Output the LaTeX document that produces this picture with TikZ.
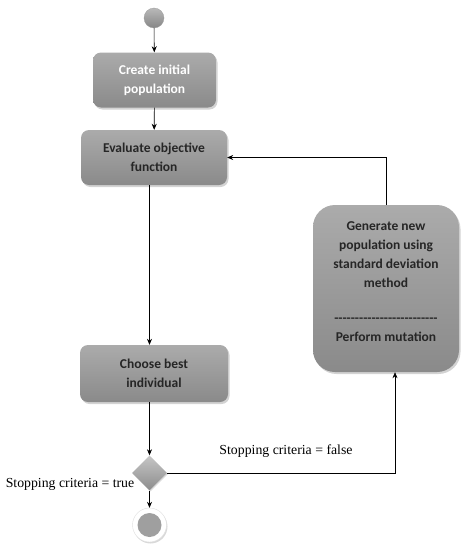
\documentclass[tikz,border=0pt]{standalone}
\usepackage{fontspec}
\setmainfont{Liberation Serif}
\newfontfamily\boxfont{Carlito}
\usetikzlibrary{shapes.geometric,shadows,arrows.meta}

\definecolor{boxtop}{HTML}{ABABAB}
\definecolor{boxbot}{HTML}{8A8A8A}
\definecolor{boxtext}{HTML}{262626}

\begin{document}
\begin{tikzpicture}[x=1pt,y=1pt,
	activity/.style={rectangle, rounded corners=8pt, top color=boxtop, bottom color=boxbot,
		drop shadow={opacity=0.35, shadow xshift=1.5pt, shadow yshift=-2pt},
		font=\boxfont\bfseries\fontsize{13.5}{19}\selectfont, text=boxtext, align=center, inner sep=2pt},
	flow/.style={-{Stealth[length=6pt,width=5pt]}, line width=0.6pt},
	guard/.style={font=\fontsize{13.8}{15}\selectfont, inner sep=1pt}]
\useasboundingbox (0,0) rectangle (461,-549);
\node[circle, minimum size=20, inner sep=0, top color=gray!55, bottom color=gray!95, draw=gray!80, line width=0.3pt] (start) at (154,-18) {};
\node[activity, minimum width=123, minimum height=55, text=white] (create) at (154.5,-80) {Create initial\\population};
\node[activity, minimum width=146, minimum height=55] (evaluate) at (154,-157.5) {Evaluate objective\\function};
\node[activity, minimum width=146, minimum height=167, rounded corners=22pt] (generate) at (386,-288.5)
	{Generate new\\population using\\standard deviation\\method\\[16pt]-------------------------\\Perform mutation\\[-6pt]\mbox{}};
\node[activity, minimum width=148, minimum height=57] (choose) at (154,-373.5) {Choose best\\individual};
\node[diamond, minimum width=35, minimum height=35, inner sep=0, top color=gray!45, bottom color=gray!90,
	drop shadow={opacity=0.3, shadow xshift=1pt, shadow yshift=-1pt}] (decide) at (149.5,-473) {};
\node[circle, minimum size=34, inner sep=0, fill=white, draw=gray!25,
	drop shadow={opacity=0.3, shadow xshift=1pt, shadow yshift=-1.5pt}] (stop) at (149.5,-525) {};
\node[circle, minimum size=24, inner sep=0, fill=gray!75] (stopdot) at (stop) {};
\coordinate (loopin) at ([xshift=9pt]generate.south);
\draw[flow] (start) -- (create);
\draw[flow] (create) -- (evaluate);
\draw[flow] (evaluate.south -| decide) -- (choose.north -| decide);
\draw[flow] (choose.south -| decide) -- (decide.north);
\draw[flow] (decide.south) -- (stop.north);
\draw[flow] (decide.east) -| (loopin);
\draw[flow] (generate.north) |- (evaluate.east);
\node[guard] (falselabel) at (286,-451) {Stopping criteria = false};
\node[guard] (truelabel) at (70,-484) {Stopping criteria = true};
\end{tikzpicture}
\end{document}
